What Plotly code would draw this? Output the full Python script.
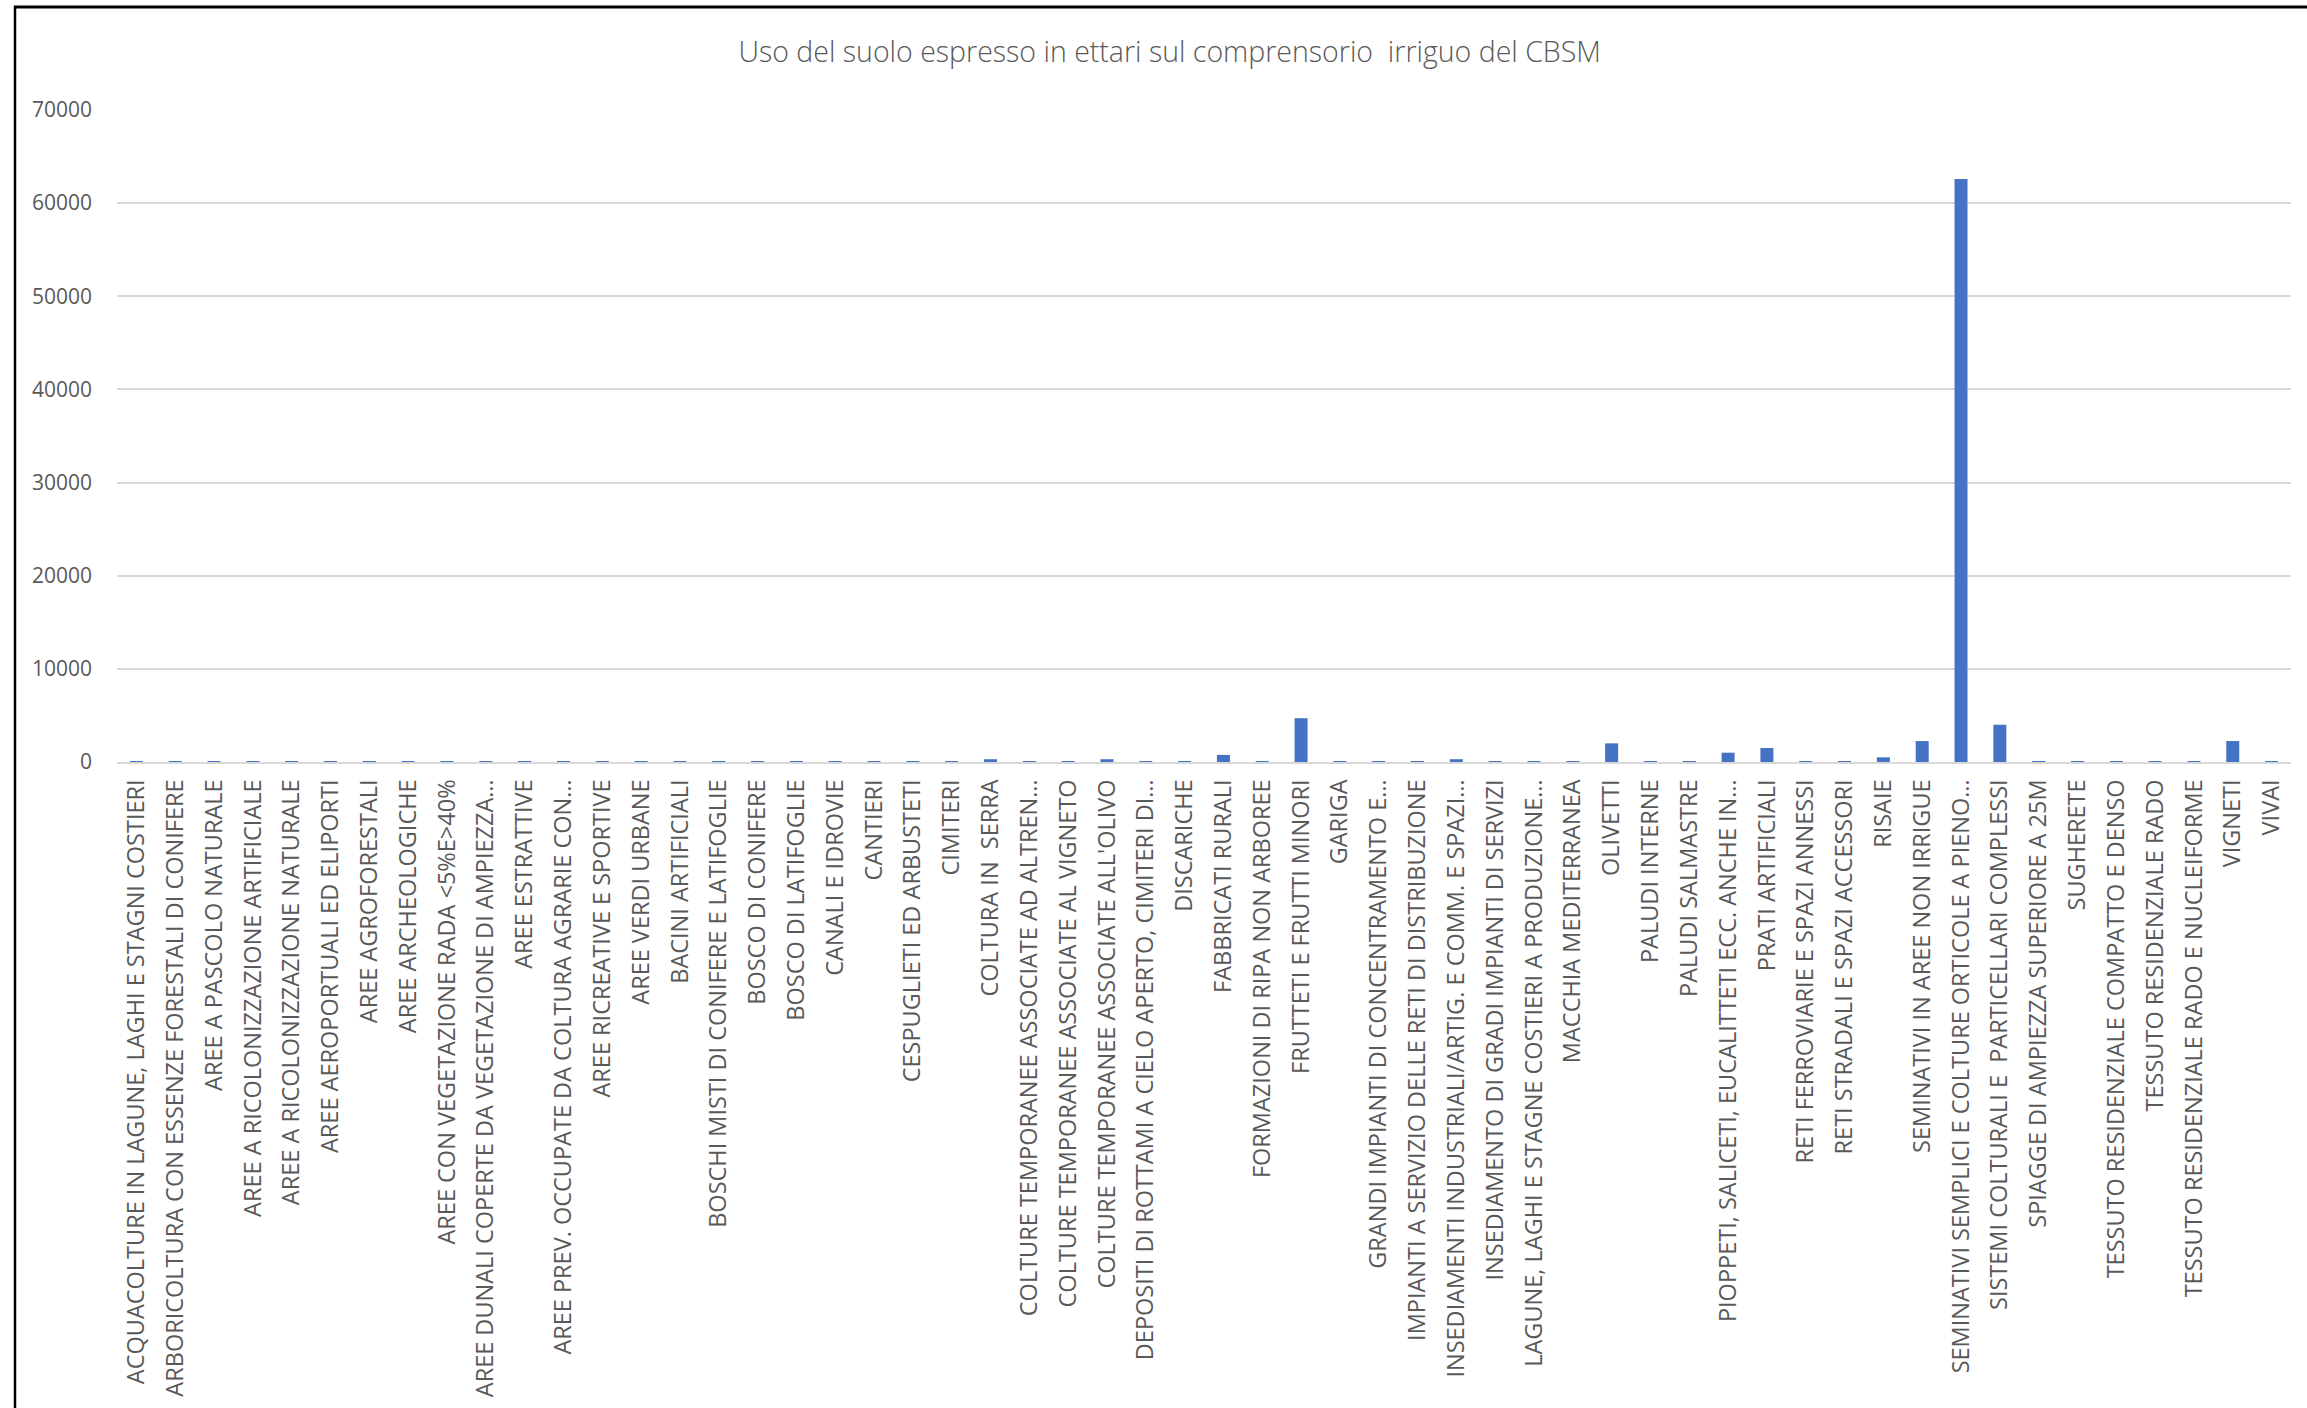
import plotly.graph_objects as go

title_text = "Uso del suolo espresso in ettari sul comprensorio  irriguo del CBSM"

categories = [
    "ACQUACOLTURE IN LAGUNE, LAGHI E STAGNI COSTIERI",
    "ARBORICOLTURA CON ESSENZE FORESTALI DI CONIFERE",
    "AREE A PASCOLO NATURALE",
    "AREE A RICOLONIZZAZIONE ARTIFICIALE",
    "AREE A RICOLONIZZAZIONE NATURALE",
    "AREE AEROPORTUALI ED ELIPORTI",
    "AREE AGROFORESTALI",
    "AREE ARCHEOLOGICHE",
    "AREE CON VEGETAZIONE RADA <5%E>40%",
    "AREE DUNALI COPERTE DA VEGETAZIONE DI AMPIEZZA…",
    "AREE ESTRATTIVE",
    "AREE PREV. OCCUPATE DA COLTURA AGRARIE CON…",
    "AREE RICREATIVE E SPORTIVE",
    "AREE VERDI URBANE",
    "BACINI ARTIFICIALI",
    "BOSCHI MISTI DI CONIFERE E LATIFOGLIE",
    "BOSCO DI CONIFERE",
    "BOSCO DI LATIFOGLIE",
    "CANALI E IDROVIE",
    "CANTIERI",
    "CESPUGLIETI ED ARBUSTETI",
    "CIMITERI",
    "COLTURA IN  SERRA",
    "COLTURE TEMPORANEE ASSOCIATE AD ALTREN…",
    "COLTURE TEMPORANEE ASSOCIATE AL VIGNETO",
    "COLTURE TEMPORANEE ASSOCIATE ALL'OLIVO",
    "DEPOSITI DI ROTTAMI A CIELO APERTO, CIMITERI DI…",
    "DISCARICHE",
    "FABBRICATI RURALI",
    "FORMAZIONI DI RIPA NON ARBOREE",
    "FRUTTETI E FRUTTI MINORI",
    "GARIGA",
    "GRANDI IMPIANTI DI CONCENTRAMENTO E…",
    "IMPIANTI A SERVIZIO DELLE RETI DI DISTRIBUZIONE",
    "INSEDIAMENTI INDUSTRIALI/ARTIG. E COMM. E SPAZI…",
    "INSEDIAMENTO DI GRADI IMPIANTI DI SERVIZI",
    "LAGUNE, LAGHI E STAGNE COSTIERI A PRODUZIONE…",
    "MACCHIA MEDITERRANEA",
    "OLIVETTI",
    "PALUDI INTERNE",
    "PALUDI SALMASTRE",
    "PIOPPETI, SALICETI, EUCALITTETI ECC. ANCHE IN…",
    "PRATI ARTIFICIALI",
    "RETI FERROVIARIE E SPAZI ANNESSI",
    "RETI STRADALI E SPAZI ACCESSORI",
    "RISAIE",
    "SEMINATIVI IN AREE NON IRRIGUE",
    "SEMINATIVI SEMPLICI E COLTURE ORTICOLE A PIENO…",
    "SISTEMI COLTURALI E  PARTICELLARI COMPLESSI",
    "SPIAGGE DI AMPIEZZA SUPERIORE A 25M",
    "SUGHERETE",
    "TESSUTO RESIDENZIALE COMPATTO E DENSO",
    "TESSUTO RESIDENZIALE RADO",
    "TESSUTO RESIDENZIALE RADO E NUCLEIFORME",
    "VIGNETI",
    "VIVAI",
]

ettari = [
    30, 20, 60, 15, 40, 25, 30, 10, 50, 20,
    30, 40, 20, 15, 30, 25, 20, 40, 60, 10,
    50, 15, 300, 40, 30, 300, 20, 30, 760, 40,
    4700, 30, 20, 20, 300, 15, 30, 50, 2000, 40,
    30, 1000, 1500, 30, 60, 500, 2250, 62600, 4000, 30,
    20, 40, 50, 30, 2250, 20,
]

y_ticks = [0, 10000, 20000, 30000, 40000, 50000, 60000, 70000]

W, H = 2307, 1408
ML, MR, MT, MB = 117, 16, 110, 646

fig = go.Figure(
    go.Bar(
        x=categories,
        y=ettari,
        marker=dict(color="#4472C4", line=dict(width=0)),
    )
)

# frame lines of the original picture (paper coords computed from margins)
pw = W - ML - MR
ph = H - MT - MB
def px_to_paper_x(px):
    return (px - ML) / pw
def py_to_paper_y(py):
    return (H - MB - py) / ph

fig.add_shape(type="line", xref="paper", yref="paper",
              x0=px_to_paper_x(14), x1=px_to_paper_x(W + 5),
              y0=py_to_paper_y(7), y1=py_to_paper_y(7),
              line=dict(color="black", width=3))
fig.add_shape(type="line", xref="paper", yref="paper",
              x0=px_to_paper_x(15), x1=px_to_paper_x(15),
              y0=py_to_paper_y(6), y1=py_to_paper_y(H + 5),
              line=dict(color="black", width=2.5))

fig.update_layout(
    width=W, height=H,
    margin=dict(l=ML, r=MR, t=MT, b=MB, autoexpand=False),
    paper_bgcolor="white",
    plot_bgcolor="white",
    bargap=0.665,
    showlegend=False,
    title=dict(
        text=title_text,
        x=0.507, xref="container", xanchor="center",
        y=1 - 52 / H, yref="container", yanchor="middle",
        font=dict(family="Open Sans", size=28.5, color="#595959", weight=300),
    ),
    font=dict(family="Open Sans", color="#595959"),
)

fig.update_xaxes(
    tickangle=-90,
    tickfont=dict(family="Open Sans", size=23.5, color="#595959"),
    showgrid=False,
    showline=True, linecolor="#D9D9D9", linewidth=2,
    ticks="", ticklabelstandoff=6,
    automargin=False,
)
fig.update_yaxes(
    range=[0, 70000],
    tickvals=y_ticks,
    ticktext=[str(v) for v in y_ticks],
    tickfont=dict(family="Open Sans", size=21, color="#595959"),
    showgrid=True, gridcolor="#D9D9D9", gridwidth=2,
    zeroline=False, showline=False,
    ticks="", ticklabelstandoff=24,
    automargin=False,
)

fig.write_html("out.html")
